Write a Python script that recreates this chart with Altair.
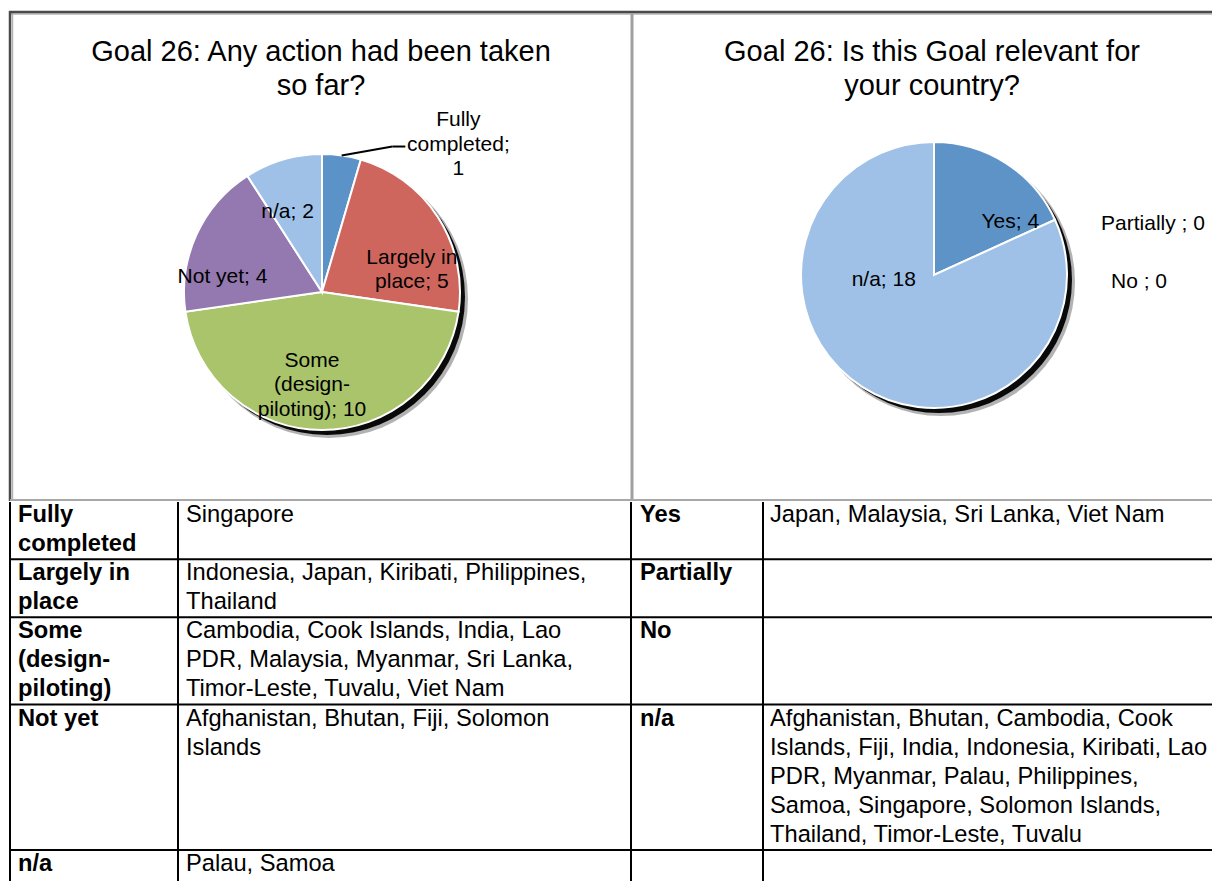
import math
import altair as alt
import pandas as pd

# ------------------------------------------------------------------ data
action_title = ["Goal 26: Any action had been taken", "so far?"]
action_categories = ["Fully completed", "Largely in place", "Some (design-piloting)", "Not yet", "n/a"]
action_counts = [1, 5, 10, 4, 2]
action_label_templates = ["Fully\ncompleted;\n{v}", "Largely in\nplace; {v}",
                          "Some\n(design-\npiloting); {v}", "Not yet; {v}", "n/a; {v}"]

relevance_title = ["Goal 26: Is this Goal relevant for", "your country?"]
relevance_categories = ["Yes", "Partially", "No", "n/a"]
relevance_counts = [4, 0, 0, 18]
relevance_label_templates = ["Yes; {v}", "Partially ; {v}", "No ; {v}", "n/a; {v}"]

action_row_headers = [["Fully", "completed"], ["Largely in", "place"],
                      ["Some", "(design-", "piloting)"], ["Not yet"], ["n/a"]]
action_row_countries = [
    ["Singapore"],
    ["Indonesia, Japan, Kiribati, Philippines,", "Thailand"],
    ["Cambodia, Cook Islands, India, Lao", "PDR, Malaysia, Myanmar, Sri Lanka,", "Timor-Leste, Tuvalu, Viet Nam"],
    ["Afghanistan, Bhutan, Fiji, Solomon", "Islands"],
    ["Palau, Samoa"],
]
relevance_row_headers = [["Yes"], ["Partially"], ["No"], ["n/a"], []]
relevance_row_countries = [
    ["Japan, Malaysia, Sri Lanka, Viet Nam"],
    [],
    [],
    ["Afghanistan, Bhutan, Cambodia, Cook", "Islands, Fiji, India, Indonesia, Kiribati, Lao",
     "PDR, Myanmar, Palau, Philippines,", "Samoa, Singapore, Solomon Islands,",
     "Thailand, Timor-Leste, Tuvalu"],
    [],
]

# ------------------------------------------------------------------ style / layout
MARGIN = 8
W, H = 1204, 873
FONT = "Liberation Sans"
LABEL_LH = 24.5
action_colors = ["#5B93C8", "#CF665E", "#A9C46B", "#9379AF", "#9FC1E8"]
relevance_colors = ["#5E93C7", "#CF665E", "#A9C46B", "#9FC1E8"]


def px(v):
    return v - MARGIN


PIE1 = dict(cx=322, cy=292, r=138)
PIE2 = dict(cx=934, cy=275, r=133)
# label placement: category -> (radius, dx, dy) ; dy refers to the centre of the text block
PIE1_LABELS = {
    "Fully completed": (150, 115, 1),
    "Largely in place": (83, 20, 23),
    "Some (design-piloting)": (83, -10, 10),
    "Not yet": (83, -24, 19),
    "n/a": (83, -11, 0),
}
PIE2_LABELS = {
    "Yes": (80, 33, 14),
    "n/a": (80, -7, -62),
    "Partially": (133, 98, 4),
    "No": (133, 84, 62),
}
SHADOW = [(7, 7, 0.3, 1), (5, 5, 0.95, 0)]


def pie_layers(cats, counts, colors, templates, cx, cy, r, label_pos, leader_cat=None):
    total = sum(counts)
    labels = [t.format(v=c) for t, c in zip(templates, counts)]
    df = pd.DataFrame({
        "category": cats,
        "count": counts,
        "order": list(range(len(cats))),
        "label": labels,
    })
    theta_scale = alt.Scale(domain=[0, total])
    base = alt.Chart(df)
    layers = []
    for ox, oy, op, dr in SHADOW:
        layers.append(
            base.transform_aggregate(total="sum(count)")
            .mark_arc(radius=r + dr, color="black", opacity=op)
            .encode(theta=alt.Theta("total:Q", stack=True, scale=theta_scale),
                    x=alt.value(px(cx + ox)), y=alt.value(px(cy + oy)))
        )
    layers.append(
        base.transform_filter("datum.count > 0")
        .mark_arc(radius=r, stroke="white", strokeWidth=2)
        .encode(
            theta=alt.Theta("count:Q", stack=True, scale=theta_scale),
            color=alt.Color("category:N", scale=alt.Scale(domain=cats, range=colors), legend=None),
            order=alt.Order("order:Q"),
            x=alt.value(px(cx)), y=alt.value(px(cy)),
        )
    )
    mid = base.transform_window(
        cum="sum(count)", sort=[alt.SortField("order")], frame=[None, 0]
    ).transform_calculate(mid="datum.cum - datum.count / 2")
    for cat, (rr, dx, dy) in label_pos.items():
        n_lines = labels[cats.index(cat)].count("\n") + 1
        layers.append(
            mid.transform_filter(alt.datum.category == cat)
            .mark_text(radius=rr, dx=dx, dy=dy - (n_lines - 1) * LABEL_LH / 2, font=FONT,
                       fontSize=21, lineHeight=LABEL_LH, lineBreak="\n", align="center",
                       baseline="middle", color="black")
            .encode(theta=alt.Theta("mid:Q", stack=False, scale=theta_scale),
                    text="label:N", x=alt.value(px(cx)), y=alt.value(px(cy)))
        )
    if leader_cat is not None:
        i = cats.index(leader_cat)
        frac = (sum(counts[:i]) + counts[i] / 2) / total
        ang = 2 * math.pi * frac
        sx, sy = cx + r * math.sin(ang), cy - r * math.cos(ang)
        rr, dx, dy = label_pos[leader_cat]
        lx = cx + rr * math.sin(ang) + dx
        ly = cy - rr * math.cos(ang) + dy
        ex, ey = lx - 53, ly + 2
        kx = ex - 13
        one = alt.Chart(pd.DataFrame({"k": [0]}))
        layers.append(one.mark_rule(color="black", strokeWidth=2).encode(
            x=alt.value(px(sx)), y=alt.value(px(sy)), x2=alt.value(px(kx)), y2=alt.value(px(ey))))
        layers.append(one.mark_rule(color="black", strokeWidth=2).encode(
            x=alt.value(px(kx)), y=alt.value(px(ey)), x2=alt.value(px(ex)), y2=alt.value(px(ey))))
    return layers


def title_layer(lines, cx, first_line_y):
    return alt.Chart(pd.DataFrame({"t": ["\n".join(lines)]})).mark_text(
        font=FONT, fontSize=29, lineHeight=34, lineBreak="\n", align="center",
        baseline="middle", color="black"
    ).encode(text="t:N", x=alt.value(px(cx)), y=alt.value(px(first_line_y)))


layers = []

# ------------------------------------------------------------------ frame
one = alt.Chart(pd.DataFrame({"k": [0]}))


def hrule(y, x1, x2, color, w):
    return one.mark_rule(color=color, strokeWidth=w).encode(
        x=alt.value(px(x1)), x2=alt.value(px(x2)), y=alt.value(px(y)))


def vrule(x, y1, y2, color, w):
    return one.mark_rule(color=color, strokeWidth=w).encode(
        x=alt.value(px(x)), y=alt.value(px(y1)), y2=alt.value(px(y2)))


layers += [
    hrule(14, 10, 1240, "#b4b4b4", 1.5),
    vrule(12.5, 12, 500, "#b4b4b4", 1.5),
    hrule(12, 9, 1240, "#4a4a4a", 2.5),
    vrule(10, 11, 501, "#4a4a4a", 2.5),
    vrule(632, 13, 501, "#a0a0a0", 3),
    hrule(500, 10, 1240, "#a8a8a8", 2),
]

# ------------------------------------------------------------------ pies
layers += pie_layers(action_categories, action_counts, action_colors, action_label_templates,
                     PIE1["cx"], PIE1["cy"], PIE1["r"], PIE1_LABELS, leader_cat="Fully completed")
layers += pie_layers(relevance_categories, relevance_counts, relevance_colors, relevance_label_templates,
                     PIE2["cx"], PIE2["cy"], PIE2["r"], PIE2_LABELS)
layers.append(title_layer(action_title, 321, 52))
layers.append(title_layer(relevance_title, 932, 52))

# ------------------------------------------------------------------ table
TABLE_TOP = 501
LINE_H = 29.08
columns = [
    (action_row_headers, 18, "bold"),
    (action_row_countries, 186, "normal"),
    (relevance_row_headers, 640, "bold"),
    (relevance_row_countries, 770, "normal"),
]
n_rows = len(action_row_headers)
row_heights = [max(len(col[0][k]) for col in columns) for k in range(n_rows)]
row_starts = [sum(row_heights[:k]) for k in range(n_rows)]
n_lines = sum(row_heights) + 1
yscale = alt.Scale(domain=[0, n_lines], range=[px(TABLE_TOP), px(TABLE_TOP) + n_lines * LINE_H])

for rows, x0, weight in columns:
    recs = []
    for k, lines in enumerate(rows):
        for j, s in enumerate(lines):
            recs.append({"line": row_starts[k] + j, "text": s})
    if not recs:
        continue
    layers.append(
        alt.Chart(pd.DataFrame(recs)).mark_text(
            font=FONT, fontSize=23.7, fontWeight=weight, align="left", baseline="alphabetic",
            dy=21, color="black"
        ).encode(y=alt.Y("line:Q", scale=yscale, axis=None), text="text:N", x=alt.value(px(x0)))
    )

layers.append(
    alt.Chart(pd.DataFrame({"line": row_starts[1:]})).mark_rule(color="black", strokeWidth=2).encode(
        y=alt.Y("line:Q", scale=yscale, axis=None), x=alt.value(px(10)), x2=alt.value(px(1240)))
)
for xv in (10, 178, 631, 763):
    layers.append(vrule(xv, 502, 900, "black", 2))

chart = alt.layer(*layers).resolve_scale(
    theta="independent", color="independent"
).properties(
    width=W, height=H, padding=0, autosize=alt.AutoSizeParams(type="none"), background="white"
).configure_view(stroke=None)

chart.save("out.html", embed_options={"renderer": "svg", "actions": False})
